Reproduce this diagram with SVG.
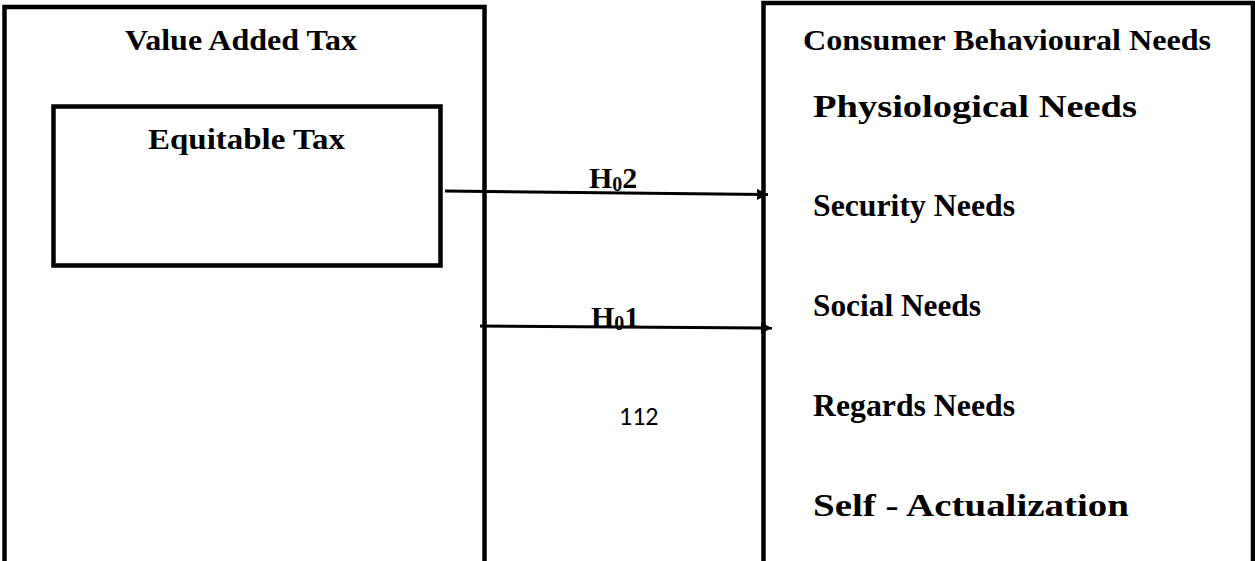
<svg xmlns="http://www.w3.org/2000/svg" width="1255" height="561" viewBox="0 0 1255 561">
  <style>
    .box { fill: none; stroke: #000; stroke-width: 4.5; }
    .t { font-family: "Liberation Serif", "Times New Roman", serif; font-weight: bold; font-size: 30px; fill: #000; }
    .item { font-size: 31px; }
    .conn { stroke: #000; stroke-width: 3; fill: none; }
    .pg { font-family: "Carlito", "Liberation Sans", sans-serif; font-size: 26px; fill: #000; }
  </style>
  <defs>
    <marker id="arr" viewBox="0 0 10 10" refX="10" refY="5" markerUnits="userSpaceOnUse" markerWidth="14" markerHeight="11" orient="auto">
      <path d="M0,0 L10,5 L0,10 Z" fill="#000"/>
    </marker>
  </defs>
  <rect width="1255" height="561" fill="#fff"/>

  <g id="vat">
    <path class="box" d="M4.5,561 V7 H484.5 V561"/>
    <text class="t" x="125" y="50" textLength="232" lengthAdjust="spacingAndGlyphs">Value Added Tax</text>
  </g>

  <g id="equitable-tax">
    <rect class="box" x="53.5" y="106.5" width="387" height="159" stroke-width="5"/>
    <text class="t" x="148" y="149" textLength="197" lengthAdjust="spacingAndGlyphs">Equitable Tax</text>
  </g>

  <g id="consumer-needs">
    <path class="box" d="M763.5,561 V3 H1253 V561"/>
    <text class="t" x="803" y="50" textLength="408" lengthAdjust="spacingAndGlyphs">Consumer Behavioural Needs</text>
    <text class="t item" x="813" y="117" textLength="324" lengthAdjust="spacingAndGlyphs">Physiological Needs</text>
    <text class="t item" x="813" y="216" textLength="202" lengthAdjust="spacingAndGlyphs">Security Needs</text>
    <text class="t item" x="813" y="316" textLength="168" lengthAdjust="spacingAndGlyphs">Social Needs</text>
    <text class="t item" x="813" y="416" textLength="202" lengthAdjust="spacingAndGlyphs">Regards Needs</text>
    <text class="t item" x="813" y="516" textLength="316" lengthAdjust="spacingAndGlyphs">Self - Actualization</text>
  </g>

  <g id="connectors">
    <line class="conn" x1="445" y1="191" x2="768" y2="194.5" marker-end="url(#arr)"/>
    <line class="conn" x1="480" y1="326" x2="772" y2="328" marker-end="url(#arr)"/>
    <text class="t" x="589" y="188">H<tspan font-size="20" dy="3">0</tspan><tspan dy="-3">2</tspan></text>
    <text class="t" x="591" y="327">H<tspan font-size="20" dy="3">0</tspan><tspan dy="-3">1</tspan></text>
  </g>

  <text class="pg" x="619" y="425">112</text>
</svg>
